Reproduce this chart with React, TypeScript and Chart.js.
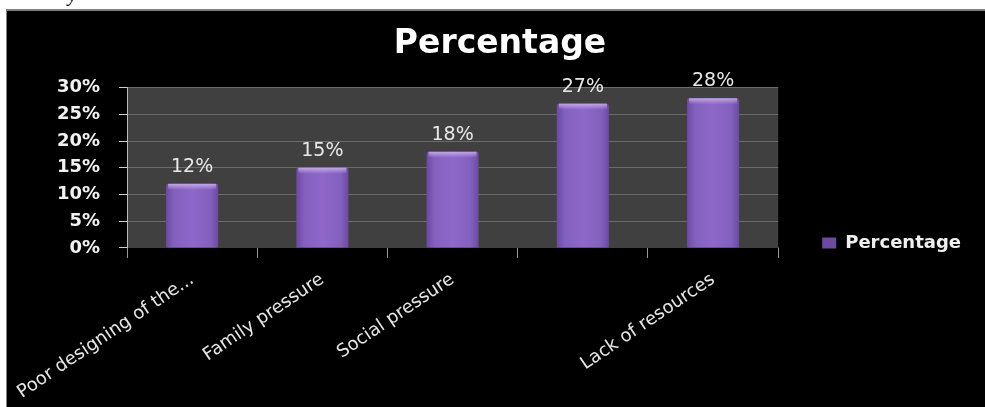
import React, { useEffect, useRef } from "react";
import { Chart, registerables } from "chart.js";

Chart.register(...registerables);

// ---- data ----
const chartTitle = "Percentage";
const seriesName = "Percentage";
const categories = [
  "Poor designing of the...",
  "Family pressure",
  "Social pressure",
  "",
  "Lack of resources",
];
const values = [12, 15, 18, 27, 28];
const yTicks = [0, 5, 10, 15, 20, 25, 30];

const FONT = '"DejaVu Sans", "Open Sans", sans-serif';
const CANVAS_W = 1008;
const CANVAS_H = 464;

const plotBackground = {
  id: "plotBackground",
  beforeDraw(chart: any) {
    const { ctx, chartArea } = chart;
    if (!chartArea) return;
    ctx.save();
    ctx.fillStyle = "#404040";
    ctx.fillRect(chartArea.left, chartArea.top, chartArea.right - chartArea.left, chartArea.bottom - chartArea.top);
    ctx.restore();
  },
};

const barDecor = {
  id: "barDecor",
  afterDatasetsDraw(chart: any) {
    const { ctx } = chart;
    const meta = chart.getDatasetMeta(0);
    ctx.save();
    meta.data.forEach((el: any, i: number) => {
      const w = el.width;
      const left = el.x - w / 2;
      // top highlight
      const g = ctx.createLinearGradient(0, el.y, 0, el.y + 6);
      g.addColorStop(0, "rgba(205,180,240,0.85)");
      g.addColorStop(1, "rgba(205,180,240,0)");
      ctx.fillStyle = g;
      ctx.fillRect(left + 2, el.y, w - 4, 6);
      // value label
      ctx.fillStyle = "#e8e8e8";
      ctx.font = `19px ${FONT}`;
      ctx.textAlign = "center";
      ctx.textBaseline = "alphabetic";
      ctx.fillText(`${values[i]}%`, el.x, el.y - 12);
    });
    ctx.restore();
  },
};

export default function App() {
  const canvasRef = useRef<HTMLCanvasElement | null>(null);

  useEffect(() => {
    const canvas = canvasRef.current;
    if (!canvas) return;
    const chart = new Chart(canvas, {
      type: "bar",
      data: {
        labels: categories,
        datasets: [
          {
            label: seriesName,
            data: values,
            backgroundColor: (c: any) => {
              const ch = c.chart;
              const xs = ch.scales && ch.scales.x;
              if (c.type !== "data" || !ch.chartArea || !xs) return "#8a62c6";
              const cx = xs.getPixelForValue(c.dataIndex);
              const w = (xs.width / categories.length) * 0.4;
              const g = ch.ctx.createLinearGradient(cx - w / 2, 0, cx + w / 2, 0);
              g.addColorStop(0, "#6c49a2");
              g.addColorStop(0.15, "#8360be");
              g.addColorStop(0.5, "#8f68ca");
              g.addColorStop(0.85, "#8360be");
              g.addColorStop(1, "#6c49a2");
              return g;
            },
            borderWidth: 0,
            borderRadius: 2,
            barPercentage: 0.4,
            categoryPercentage: 1,
          },
        ],
      },
      options: {
        responsive: false,
        animation: false,
        devicePixelRatio: 1,
        layout: { padding: { left: 22, right: 44, top: 0, bottom: 0 } },
        plugins: {
          title: {
            display: true,
            text: chartTitle,
            color: "#ffffff",
            font: { family: FONT, size: 33, weight: "bold", lineHeight: 1.2 },
            padding: { top: 14, bottom: 23 },
          },
          legend: {
            display: true,
            position: "right",
            labels: {
              color: "#f0f0f0",
              font: { family: FONT, size: 18, weight: "bold" },
              boxWidth: 14,
              boxHeight: 11,
              padding: 44,
            },
          },
          tooltip: { enabled: false },
        },
        scales: {
          x: {
            type: "category",
            offset: true,
            grid: {
              display: true,
              offset: true,
              drawOnChartArea: false,
              drawTicks: true,
              tickLength: 10,
              tickColor: "#9a9a9a",
            },
            border: { display: true, color: "#404040" },
            ticks: {
              color: "#e6e6e6",
              font: { family: FONT, size: 18 },
              minRotation: 34,
              maxRotation: 34,
              autoSkip: false,
              padding: 11,
            },
            afterFit: (s: any) => {
              s.height = CANVAS_H - 237;
              s.paddingLeft = 0;
              s.paddingRight = 0;
            },
          },
          y: {
            min: 0,
            max: 30,
            afterBuildTicks: (s: any) => {
              s.ticks = yTicks.map((v) => ({ value: v }));
            },
            grid: {
              color: "#6b6b6b",
              tickColor: "#cfcfcf",
              tickLength: 8,
              drawTicks: true,
            },
            border: { display: true, color: "#bdbdbd" },
            ticks: {
              color: "#f2f2f2",
              font: { family: FONT, size: 18, weight: "bold" },
              padding: 19,
              callback: (v: any) => `${v}%`,
            },
            afterFit: (s: any) => {
              s.width = 98;
            },
          },
        },
      },
      plugins: [plotBackground, barDecor],
    });
    return () => chart.destroy();
  }, []);

  return (
    <div
      style={{
        position: "fixed",
        left: 0,
        top: 0,
        width: 985,
        height: 407,
        background: "#ffffff",
        overflow: "hidden",
      }}
    >
      <span
        style={{
          position: "absolute",
          left: 68,
          top: -16,
          fontFamily: '"Liberation Serif", serif',
          fontStyle: "italic",
          fontSize: 20,
          lineHeight: "20px",
          color: "#000",
        }}
      >
        y
      </span>
      <div
        style={{
          position: "absolute",
          left: 6,
          top: 9,
          width: 1100,
          height: 500,
          background: "#000000",
          borderTop: "2px solid #808080",
          borderLeft: "1px solid #808080",
          overflow: "hidden",
        }}
      >
        <canvas
          ref={canvasRef}
          width={CANVAS_W}
          height={CANVAS_H}
          style={{ display: "block", width: CANVAS_W, height: CANVAS_H }}
        />
      </div>
    </div>
  );
}
